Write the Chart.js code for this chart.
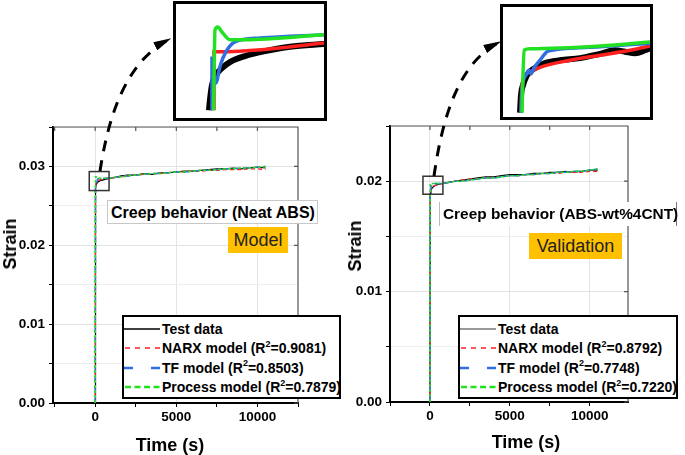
<!DOCTYPE html>
<html>
<head>
<meta charset="utf-8">
<script src="https://cdn.jsdelivr.net/npm/chart.js@4.4.0/dist/chart.umd.min.js"></script>
<style>
  body { margin: 0; width: 685px; height: 455px; position: relative; overflow: hidden; background: #fff;
         font-family: Arial, "Liberation Sans", sans-serif; }
  .abs { position: absolute; }
  .axTitle { position: absolute; font-weight: bold; font-size: 18px; line-height: 1; white-space: nowrap;
             transform: translate(-50%, -50%); color: #000; }
  .note { position: absolute; font-weight: bold; font-size: 16px; line-height: 23px; white-space: nowrap;
          background: #fff; color: #000; box-sizing: border-box; padding-left: 3px; }
  .tag { position: absolute; background: #FFC000; color: #222; font-size: 18px; text-align: center;
         box-sizing: border-box; line-height: 26px; }
  .legend { position: absolute; border: 2px solid #000; background: #fff; box-sizing: border-box; padding-top: 2px; }
  .legend .row { height: 19.5px; display: flex; align-items: center; font-weight: bold; font-size: 14px; white-space: nowrap; }
  .legend sup { font-size: 9px; position: relative; top: -1px; vertical-align: super; line-height: 0; }
  .inset { position: absolute; border: 3px solid #000; background: #fff; }
</style>
</head>
<body>

<canvas id="mainLeft" class="abs" style="left:0;top:110px" width="340" height="345"></canvas>
<canvas id="mainRight" class="abs" style="left:340px;top:110px" width="345" height="345"></canvas>

<div class="axTitle" style="left:10px;top:244px;transform:translate(-50%,-50%) rotate(-90deg)">Strain</div>
<div class="axTitle" style="left:355px;top:246px;transform:translate(-50%,-50%) rotate(-90deg)">Strain</div>
<div class="axTitle" style="left:170px;top:445px">Time (s)</div>
<div class="axTitle" style="left:526px;top:442px">Time (s)</div>

<div class="note" style="left:107px;top:200px;width:211px;height:24px;border:1px solid #c8c8c8">Creep behavior (Neat ABS)</div>
<div class="note" style="left:439px;top:202px;width:238px;height:24px;font-size:15.4px;border-left:1px solid #bbb;border-right:1.5px solid #777">Creep behavior (ABS-wt%4CNT)</div>
<div class="tag" style="left:228px;top:227px;width:60px;height:26px">Model</div>
<div class="tag" style="left:529px;top:233px;width:93px;height:26px">Validation</div>

<div id="legendLeft" class="legend" style="left:122px;top:315px;width:219px"></div>
<div id="legendRight" class="legend" style="left:458px;top:315px;width:220px"></div>

<div class="inset" style="left:173px;top:1px;width:148px;height:114px"><canvas id="insetLeft" width="148" height="114"></canvas></div>
<div class="inset" style="left:500px;top:4px;width:147px;height:110px"><canvas id="insetRight" width="147" height="110"></canvas></div>

<svg class="abs" style="left:0;top:0" width="685" height="455">
  <defs>
    <marker id="head" markerWidth="6" markerHeight="3" refX="5.5" refY="1.5" orient="auto" markerUnits="strokeWidth">
      <path d="M0,0 L6,1.5 L0,3 z" fill="#000"/>
    </marker>
  </defs>
  <path d="M 100 171 C 108 120, 124 62, 170 39" fill="none" stroke="#000" stroke-width="3" stroke-dasharray="11 9" marker-end="url(#head)"/>
  <path d="M 434 176 C 442 120, 458 62, 500 42" fill="none" stroke="#000" stroke-width="3" stroke-dasharray="11 9" marker-end="url(#head)"/>
</svg>

<script>
// ---- data ----
const seriesNames = ["Test data", "NARX model", "TF model", "Process model"];
const leftR2 = ["", "0.9081", "0.8503", "0.7879"];
const rightR2 = ["", "0.8792", "0.7748", "0.7220"];

const timeS = [0, 20, 60, 150, 300, 500, 800, 1200, 1600, 2000, 2500, 3000, 3500, 4000, 4500,
  5000, 5500, 6000, 6500, 7000, 7500, 8000, 8500, 9000, 9500, 10000, 10500];
const timeTicks = [-2500, 0, 2500, 5000, 7500, 10000, 12500];
const timeTickLabels = [0, 5000, 10000];

// Neat ABS (model)
const leftTest = [0, 0.0272, 0.0277, 0.0280, 0.0282, 0.0283, 0.02845, 0.0286, 0.0288, 0.0289, 0.0289, 0.0291, 0.0290, 0.0292,
  0.0292, 0.0293, 0.0294, 0.0294, 0.0295, 0.0296, 0.0297, 0.0297, 0.0298, 0.0297, 0.0298, 0.0299, 0.0298];
const leftNarx = [0, 0.0272, 0.0282, 0.02825, 0.0283, 0.0284, 0.0285, 0.0286, 0.0287, 0.0288, 0.0289, 0.0290, 0.0291, 0.0291,
  0.0292, 0.0293, 0.0293, 0.0294, 0.0294, 0.0295, 0.0295, 0.0296, 0.0296, 0.0296, 0.0297, 0.0297, 0.0296];
const leftTf = [0, 0.0275, 0.0278, 0.0284, 0.0285, 0.0285, 0.0285, 0.0286, 0.0287, 0.0288, 0.0289, 0.0290, 0.0291, 0.0291,
  0.0292, 0.0293, 0.0293, 0.0294, 0.0295, 0.0295, 0.0296, 0.0297, 0.0297, 0.0298, 0.0298, 0.0299, 0.0300];
const leftProcess = [0, 0.0287, 0.0287, 0.0285, 0.0285, 0.0285, 0.0285, 0.0286, 0.0287, 0.0288, 0.0289, 0.0290, 0.0291, 0.0291,
  0.0292, 0.0293, 0.0293, 0.0294, 0.0295, 0.0295, 0.0296, 0.0297, 0.0297, 0.0298, 0.0298, 0.0299, 0.0300];

// ABS-wt%4CNT (validation)
const rightTest = [0, 0.0189, 0.0192, 0.0194, 0.0196, 0.0197, 0.0198, 0.0199, 0.0200, 0.0201, 0.0202, 0.0203, 0.0204, 0.0204,
  0.0205, 0.0206, 0.0206, 0.0206, 0.0207, 0.0207, 0.0208, 0.0208, 0.0209, 0.0208, 0.0209, 0.0210, 0.0210];
const rightNarx = [0, 0.0189, 0.0193, 0.0195, 0.0196, 0.0197, 0.0198, 0.0199, 0.0200, 0.0201, 0.0202, 0.0202, 0.0203, 0.0203,
  0.0204, 0.0205, 0.0205, 0.0206, 0.0206, 0.0207, 0.0207, 0.0207, 0.0208, 0.0208, 0.0208, 0.0209, 0.0209];
const rightTf = [0, 0.0189, 0.0194, 0.0197, 0.0198, 0.0198, 0.0198, 0.0199, 0.0200, 0.0200, 0.0201, 0.0202, 0.0203, 0.0203,
  0.0204, 0.0205, 0.0205, 0.0206, 0.0206, 0.0207, 0.0207, 0.0208, 0.0208, 0.0209, 0.0209, 0.0210, 0.0211];
const rightProcess = [0, 0.0198, 0.0198, 0.0198, 0.0198, 0.0198, 0.0198, 0.0199, 0.0200, 0.0200, 0.0201, 0.0202, 0.0203, 0.0203,
  0.0204, 0.0205, 0.0205, 0.0206, 0.0206, 0.0207, 0.0207, 0.0208, 0.0208, 0.0209, 0.0209, 0.0210, 0.0211];

// zoom windows (time s, strain) shown by the small squares / insets
const leftZoomTime = [-366, 854];
const leftZoomStrain = [0.02694, 0.02935];
const rightZoomTime = [-437, 812];
const rightZoomStrain = [0.01882, 0.02045];

// inset (zoomed) curves, left
const liTestT = [0, 8, 24, 55, 103, 166, 285, 444, 642, 919];
const liTestS = [0.0272, 0.02739, 0.02766, 0.02784, 0.02797, 0.02808, 0.02819, 0.02828, 0.02836, 0.02841];
const liNarxT = [40, 40, 245, 483, 919];
const liNarxS = [0.0272, 0.02827, 0.02828, 0.02832, 0.02843];
const liTfT = [24, 24, 40, 55, 87, 135, 206, 404, 919];
const liTfS = [0.0272, 0.02815, 0.0277, 0.0277, 0.02800, 0.02827, 0.02845, 0.02852, 0.02858];
const liProcT = [36, 48, 71, 103, 166, 285, 919];
const liProcS = [0.0272, 0.02867, 0.02872, 0.02863, 0.02849, 0.02849, 0.02858];

// inset (zoomed) curves, right
const riTestT = [0, 8, 25, 57, 123, 204, 327, 490, 654, 776, 858, 940, 1021, 1087];
const riTestS = [0.01892, 0.01917, 0.01931, 0.01945, 0.01955, 0.01962, 0.01966, 0.01969, 0.01975, 0.01980, 0.01978, 0.01976, 0.01980, 0.01985];
const riNarxT = [8, 16, 65, 163, 409, 654, 899, 1087];
const riNarxS = [0.01892, 0.01931, 0.01948, 0.01956, 0.01966, 0.01973, 0.01980, 0.01987];
const riTfT = [8, 16, 49, 74, 90, 114, 163, 221, 261, 654, 1087];
const riTfS = [0.01892, 0.01924, 0.01945, 0.01952, 0.01947, 0.01955, 0.01966, 0.01978, 0.01980, 0.01985, 0.01990];
const riProcT = [16, 33, 82, 654, 1087];
const riProcS = [0.01892, 0.01980, 0.01982, 0.01986, 0.01992];

// ---- styles ----
const colors = ["#000000", "#ff2020", "#2f6fe0", "#22e022"];
const mainDash = [[], [4, 3], [7, 3], [3, 2]];
const mainWidth = [1.2, 1.3, 1.5, 1.5];

function pts(xs, ys) {
  return xs.map((x, i) => ({ x: x, y: ys[i] }));
}

function isTimeLabel(v) {
  return timeTickLabels.some((t) => Math.abs(v - t) < 1e-3);
}

function isMajorStrain(v) {
  return Math.abs(v * 100 - Math.round(v * 100)) < 1e-6;
}

function mainDatasets(series) {
  return series.map((vals, i) => ({
    label: seriesNames[i],
    data: pts(timeS, vals),
    borderColor: colors[i],
    borderWidth: mainWidth[i],
    borderDash: mainDash[i],
    pointRadius: 0,
    tension: 0,
    order: 4 - i,
  }));
}

// top/right frame with inward ticks, plus the zoom square
const framePlugin = {
  id: "frame",
  afterDraw(chart, args, opts) {
    const { ctx, chartArea: a, scales } = chart;
    ctx.save();
    ctx.strokeStyle = "#555";
    ctx.lineWidth = 1.2;
    ctx.beginPath();
    ctx.moveTo(a.left, a.top);
    ctx.lineTo(a.right, a.top);
    ctx.lineTo(a.right, a.bottom);
    ctx.stroke();
    ctx.beginPath();
    scales.x.ticks.forEach((t) => {
      const px = scales.x.getPixelForValue(t.value);
      if (px > a.left + 1 && px < a.right - 1) {
        ctx.moveTo(px, a.top);
        ctx.lineTo(px, a.top + 4);
      }
    });
    scales.y.ticks.forEach((t) => {
      if (isMajorStrain(t.value)) {
        const py = scales.y.getPixelForValue(t.value);
        ctx.moveTo(a.right, py);
        ctx.lineTo(a.right - 4, py);
      }
    });
    ctx.stroke();
    const zx = opts.zoomTime, zy = opts.zoomStrain;
    const x0 = scales.x.getPixelForValue(zx[0]), x1 = scales.x.getPixelForValue(zx[1]);
    const y0 = scales.y.getPixelForValue(zy[1]), y1 = scales.y.getPixelForValue(zy[0]);
    ctx.strokeStyle = "#333";
    ctx.lineWidth = 1.5;
    ctx.strokeRect(x0, y0, x1 - x0, y1 - y0);
    ctx.restore();
  },
};

const tickFont = { family: "Arial, 'Liberation Sans', sans-serif", size: 13.5, weight: "bold" };

function mainChart(id, series, xMin, xMax, yMax, yWidth, xHeight, pad, zoomTime, zoomStrain) {
  return new Chart(document.getElementById(id), {
    type: "line",
    data: { datasets: mainDatasets(series) },
    options: {
      responsive: false,
      animation: false,
      layout: { padding: pad },
      plugins: { legend: { display: false }, tooltip: { enabled: false },
                 frame: { zoomTime: zoomTime, zoomStrain: zoomStrain } },
      scales: {
        x: {
          type: "linear",
          min: xMin,
          max: xMax,
          afterFit: (s) => { s.height = xHeight; },
          afterBuildTicks: (s) => {
            s.ticks = timeTicks.filter((v) => v >= xMin && v <= xMax).map((v) => ({ value: v }));
          },
          border: { color: "#000", width: 2 },
          grid: {
            color: (c) => (c.tick && isTimeLabel(c.tick.value) ? "#e4e4e4" : "rgba(0,0,0,0)"),
            tickColor: "#000",
            tickLength: 4,
          },
          ticks: {
            autoSkip: false,
            maxRotation: 0,
            padding: 2,
            color: "#000",
            font: tickFont,
            callback: (v) => (isTimeLabel(v) ? String(Math.round(v)) : ""),
          },
        },
        y: {
          min: 0,
          max: yMax,
          afterFit: (s) => { s.width = yWidth; },
          border: { color: "#000", width: 2 },
          grid: {
            color: (c) => (c.tick && isMajorStrain(c.tick.value) ? "#e2e2e2" : "#efefef"),
            tickColor: "#000",
            tickLength: 4,
          },
          ticks: {
            stepSize: 0.005,
            autoSkip: false,
            padding: 4,
            color: "#000",
            font: tickFont,
            callback: (v) => (isMajorStrain(v) ? v.toFixed(2) : ""),
          },
        },
      },
    },
    plugins: [framePlugin],
  });
}

mainChart("mainLeft", [leftTest, leftNarx, leftTf, leftProcess], -2600, 12500, 0.035, 53, 52,
  { top: 17, right: 42, left: 0, bottom: 0 }, leftZoomTime, leftZoomStrain);
mainChart("mainRight", [rightTest, rightNarx, rightTf, rightProcess], -2500, 12400, 0.025, 50, 53,
  { top: 16, right: 57, left: 0, bottom: 0 }, rightZoomTime, rightZoomStrain);

// ---- insets ----
const insetWidth = [6, 3.5, 3.5, 3.5];
function insetChart(id, curves, xMin, xMax, yMin, yMax) {
  return new Chart(document.getElementById(id), {
    type: "line",
    data: {
      datasets: curves.map((c, i) => ({
        data: pts(c[0], c[1]),
        borderColor: colors[i],
        borderWidth: insetWidth[i],
        pointRadius: 0,
        cubicInterpolationMode: "monotone",
        order: 4 - i,
        borderCapStyle: "butt",
      })),
    },
    options: {
      responsive: false,
      animation: false,
      layout: { padding: 0 },
      plugins: { legend: { display: false }, tooltip: { enabled: false } },
      scales: {
        x: { type: "linear", min: xMin, max: xMax, display: false },
        y: { min: yMin, max: yMax, display: false },
      },
    },
  });
}

insetChart("insetLeft", [[liTestT, liTestS], [liNarxT, liNarxS], [liTfT, liTfS], [liProcT, liProcS]],
  -261, 911, 0.02706, 0.02914);
insetChart("insetRight", [[riTestT, riTestS], [riNarxT, riNarxS], [riTfT, riTfS], [riProcT, riProcS]],
  -139, 1062, 0.01886, 0.02041);

// ---- legends ----
const legendSamples = [
  (c) => `<line x1="0" y1="5" x2="36" y2="5" stroke="${c}" stroke-width="1.3"/>`,
  () => `<line x1="1" y1="5" x2="37" y2="5" stroke="${colors[1]}" stroke-width="1.6" stroke-dasharray="5 5"/>`,
  () => `<line x1="0" y1="5" x2="37" y2="5" stroke="${colors[2]}" stroke-width="2.6" stroke-dasharray="9 18"/>`,
  () => `<line x1="1" y1="5" x2="37" y2="5" stroke="${colors[3]}" stroke-width="2.4" stroke-dasharray="6 3.5"/>`,
];

function buildLegend(id, r2, testColor) {
  const box = document.getElementById(id);
  box.innerHTML = seriesNames.map((name, i) => {
    const label = r2[i] ? `${name} (R<sup>2</sup>=${r2[i]})` : name;
    const sample = i === 0 ? legendSamples[0](testColor) : legendSamples[i]();
    return `<div class="row"><svg width="38" height="10" style="flex:none">${sample}</svg><span>${label}</span></div>`;
  }).join("");
}

buildLegend("legendLeft", leftR2, "#000");
buildLegend("legendRight", rightR2, "#777");
</script>
</body>
</html>
